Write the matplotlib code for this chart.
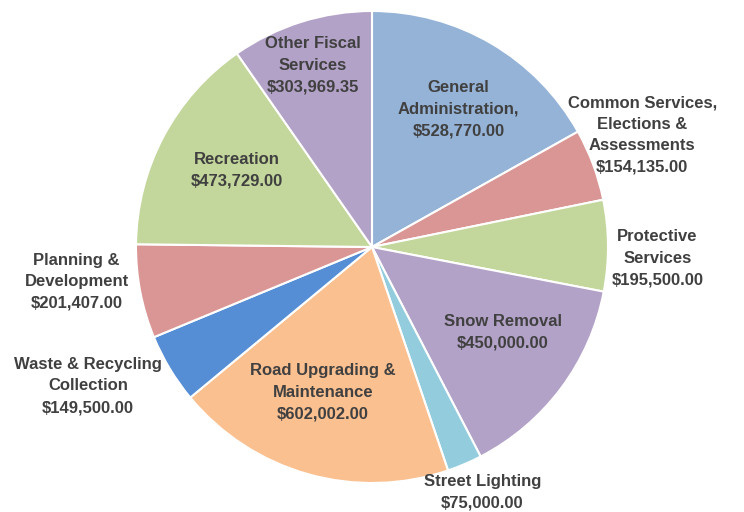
import numpy as np
import matplotlib
matplotlib.use('Agg')
import matplotlib.pyplot as plt

labels = ['General\nAdministration,', 'Common Services,\nElections &\nAssessments', 'Protective\nServices',
          'Snow Removal', 'Street Lighting', 'Road Upgrading &\nMaintenance', 'Waste & Recycling\nCollection',
          'Planning &\nDevelopment', 'Recreation', 'Other Fiscal\nServices']
values = [528770.00, 154135.00, 195500.00, 450000.00, 75000.00, 602002.00, 149500.00, 201407.00, 473729.00,
          303969.35]
colors = ['#95B3D7', '#D99694', '#C3D69B', '#B3A2C7', '#93CDDD', '#FAC090', '#558ED5', '#D99694', '#C3D69B',
          '#B3A2C7']

# label distance from centre (fraction of radius) and small angle tweak in degrees
label_r = [0.69, 1.24, 1.21, 0.66, 1.14, 0.65, 1.34, 1.26, 0.66, 0.81]
label_da = [-1.7, 2.1, -2.6, 3.7, 1.1, -2.8, -5.0, -4.2, -1.6, 0.6]

plt.rcParams['font.family'] = ['Liberation Sans', 'DejaVu Sans']

fig = plt.figure(figsize=(7.44, 5.12), dpi=100)
ax = fig.add_axes([0, 0, 1, 1])
wedges, _ = ax.pie(values, colors=colors, startangle=90, counterclock=False,
                   wedgeprops=dict(edgecolor='white', linewidth=1.5))

for w, lab, val, r, da in zip(wedges, labels, values, label_r, label_da):
    ang = np.deg2rad((w.theta1 + w.theta2) / 2 + da)
    txt = lab + '\n$' + '{:,.2f}'.format(val)
    ax.text(r * np.cos(ang), r * np.sin(ang), txt,
            ha='center', va='center', fontsize=12, fontweight='bold', color='#404040', linespacing=1.55)

ax.set_xlim(-372 / 236, 372 / 236)
ax.set_ylim(-265 / 236, 247 / 236)
ax.set_aspect('auto')
ax.axis('off')
fig.savefig('out.png', dpi=100)
